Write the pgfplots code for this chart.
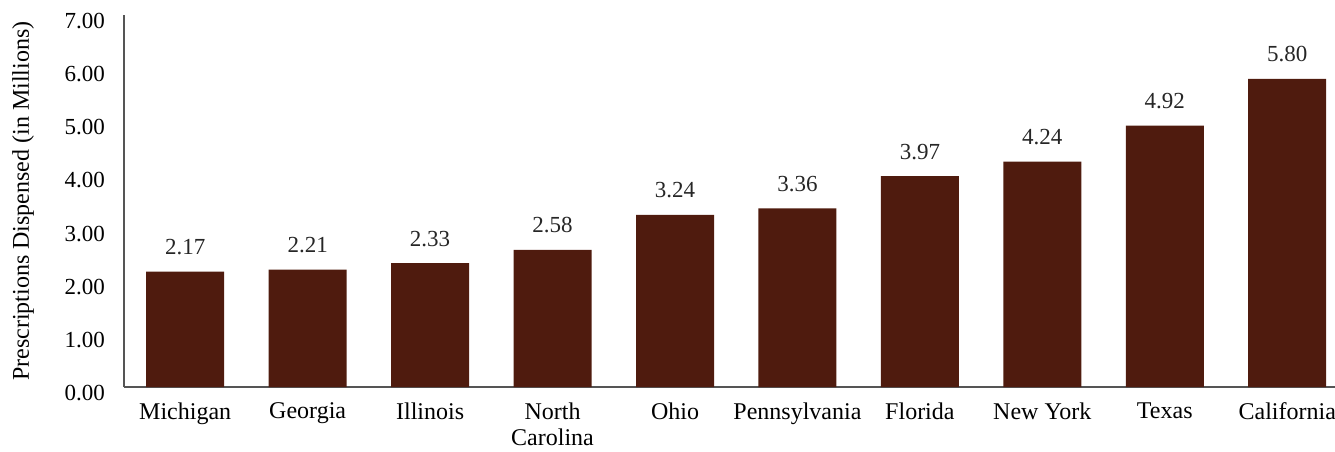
\documentclass[border=0pt]{standalone}
\usepackage{pgfplots}
\pgfplotsset{compat=1.18}
\usepackage{fontspec}
\setmainfont{Liberation Serif}
\definecolor{barbrown}{RGB}{79,27,14}
\definecolor{axgray}{RGB}{85,85,85}
\begin{document}
\begin{tikzpicture}
\path[use as bounding box] (-62pt,-32pt) rectangle (605.5pt,193.5pt);
\begin{axis}[
  scale only axis,
  width=605.5pt, height=186pt,
  ymin=0, ymax=7,
  xmin=-0.5, xmax=9.39,
  ytick={0,1,...,7},
  xtick={0,...,9},
  xticklabels={Michigan,Georgia,Illinois,North\\Carolina,Ohio,Pennsylvania,Florida,New York,Texas,California},
  axis x line*=bottom,
  axis y line*=left,
  axis line style={axgray, line width=0.6pt},
  major tick length=0pt,
  tick style={draw=none},
  /pgf/number format/assume math mode=true,
  yticklabel style={/pgf/number format/.cd,fixed,fixed zerofill,precision=2,/tikz/.cd, font=\fontsize{11.5}{13}\selectfont, xshift=-6pt, yshift=-3pt},
  xticklabel style={align=center, font=\fontsize{12}{13}\selectfont, yshift=-4.5pt},
  ylabel={Prescriptions Dispensed (in Millions)},
  ylabel style={font=\fontsize{12}{13}\selectfont, yshift=8.5pt},
  ybar, bar width=0.637,
  nodes near coords,
  nodes near coords style={/pgf/number format/.cd,fixed,fixed zerofill,precision=2,/tikz/.cd, font=\fontsize{11.5}{13}\selectfont, text=black!85, anchor=base, yshift=8.5pt},
  clip=false,
]
\addplot[fill=barbrown, draw=none] coordinates {
(0,2.17) (1,2.21) (2,2.33) (3,2.58) (4,3.24) (5,3.36) (6,3.97) (7,4.24) (8,4.92) (9,5.80)
};
\end{axis}
\end{tikzpicture}
\end{document}
